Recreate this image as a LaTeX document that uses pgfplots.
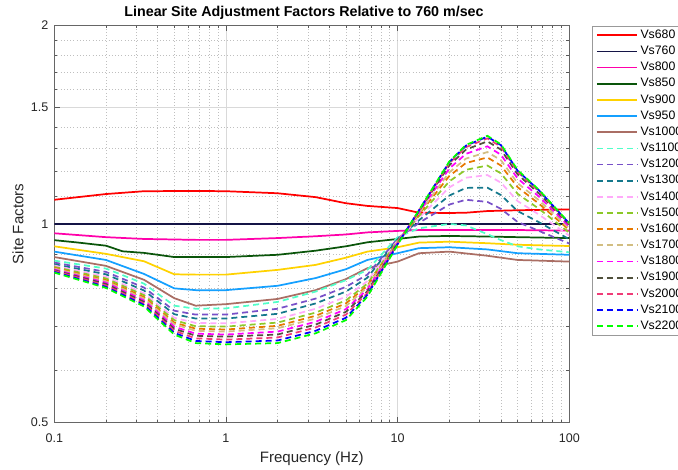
\documentclass[border=0pt]{standalone}
\usepackage{fontspec}
\setmainfont{Liberation Sans}
\usepackage{pgfplots}
\usepackage{pgfplotstable}
\pgfplotsset{compat=1.18}

\definecolor{c680}{RGB}{255,0,0}
\definecolor{c760}{RGB}{20,20,70}
\definecolor{c800}{RGB}{255,0,170}
\definecolor{c850}{RGB}{10,85,10}
\definecolor{c900}{RGB}{255,210,0}
\definecolor{c950}{RGB}{20,160,255}
\definecolor{c1000}{RGB}{170,110,100}
\definecolor{c1100}{RGB}{80,255,200}
\definecolor{c1200}{RGB}{120,80,200}
\definecolor{c1300}{RGB}{20,120,140}
\definecolor{c1400}{RGB}{255,170,250}
\definecolor{c1500}{RGB}{140,200,40}
\definecolor{c1600}{RGB}{230,120,0}
\definecolor{c1700}{RGB}{210,190,130}
\definecolor{c1800}{RGB}{255,0,255}
\definecolor{c1900}{RGB}{80,80,60}
\definecolor{c2000}{RGB}{240,60,120}
\definecolor{c2100}{RGB}{0,0,255}
\definecolor{c2200}{RGB}{0,255,0}

\pgfplotstableread{
f      a     b     c     d     e     g     h     i     j     k     l     m
0.1    0.880 0.874 0.869 0.865 0.861 0.858 0.856 0.853 0.851 0.849 0.846 0.844
0.2    0.856 0.846 0.839 0.832 0.827 0.822 0.819 0.815 0.811 0.807 0.803 0.800
0.3333 0.812 0.801 0.793 0.785 0.780 0.775 0.771 0.766 0.762 0.758 0.754 0.750
0.5    0.752 0.739 0.730 0.721 0.715 0.709 0.705 0.699 0.694 0.689 0.684 0.680
0.6667 0.744 0.729 0.719 0.708 0.700 0.694 0.689 0.682 0.677 0.671 0.665 0.660
1      0.745 0.729 0.719 0.707 0.699 0.692 0.687 0.680 0.675 0.668 0.662 0.657
2      0.762 0.744 0.731 0.718 0.709 0.701 0.695 0.687 0.680 0.673 0.666 0.660
3.333  0.790 0.771 0.758 0.744 0.734 0.726 0.719 0.711 0.704 0.697 0.689 0.683
5      0.822 0.803 0.790 0.776 0.766 0.758 0.751 0.743 0.736 0.729 0.721 0.715
6.667  0.852 0.838 0.829 0.819 0.812 0.806 0.802 0.796 0.791 0.786 0.781 0.776
10     0.955 0.950 0.948 0.944 0.942 0.940 0.939 0.937 0.935 0.933 0.932 0.930
13.33  0.985 1.004 1.013 1.021 1.028 1.034 1.038 1.042 1.046 1.048 1.049 1.050
20     1.000 1.070 1.104 1.136 1.160 1.182 1.197 1.213 1.227 1.236 1.241 1.243
25     0.995 1.088 1.134 1.175 1.208 1.237 1.256 1.277 1.296 1.307 1.314 1.317
33.33  0.965 1.080 1.135 1.186 1.226 1.261 1.285 1.311 1.334 1.348 1.356 1.360
40     0.945 1.054 1.106 1.155 1.193 1.226 1.249 1.273 1.296 1.309 1.316 1.320
50     0.925 1.007 1.046 1.083 1.111 1.137 1.153 1.172 1.189 1.199 1.204 1.207
66.67  0.915 0.976 1.006 1.033 1.054 1.073 1.086 1.100 1.112 1.120 1.124 1.126
100    0.906 0.934 0.948 0.960 0.970 0.979 0.985 0.991 0.997 1.000 1.002 1.003
}\dashedtab

\begin{document}
\begin{tikzpicture}
\begin{axis}[
  at={(0,0)}, anchor=south west,
  scale only axis, width=386.25pt, height=298.05pt,
  xmode=log, ymode=log,
  xmin=0.1, xmax=100, ymin=0.5, ymax=2,
  xtick={0.1,1,10,100}, xticklabels={0.1,1,10,100},
  ytick={0.5,1,1.5,2}, yticklabels={0.5,1,1.5,2},
  minor xtick={0.2,0.3,0.4,0.5,0.6,0.7,0.8,0.9,2,3,4,5,6,7,8,9,20,30,40,50,60,70,80,90},
  minor ytick={0.6,0.7,0.8,0.9,1.1,1.2,1.3,1.4,1.6,1.7,1.8,1.9},
  grid=both,
  major grid style={black!15, line width=0.4pt},
  minor grid style={black!25, dotted, line width=0.4pt},
  xtick pos=both, ytick pos=both,
  tick align=inside,
  major tick length=4pt, minor tick length=2.2pt,
  tick style={black!65, line width=0.4pt},
  axis line style={black!60, line width=0.5pt},
  ticklabel style={font=\fontsize{9.4}{11}\selectfont, text=black!85},
  xticklabel style={yshift=-5pt},
  yticklabel style={xshift=-1pt},
  /pgf/number format/assume math mode=true,
  xlabel={Frequency (Hz)}, ylabel={Site Factors},
  xlabel style={at={(rel axis cs:0.5,0)}, anchor=center, yshift=-27pt, font=\fontsize{11.3}{13}\selectfont, text=black!85},
  ylabel style={at={(rel axis cs:0,0.5)}, anchor=center, yshift=27.2pt, font=\fontsize{11.3}{13}\selectfont, text=black!85},
  every axis title shift=0pt,
  title={Linear Site Adjustment Factors Relative to 760 m/sec},
  title style={at={(rel axis cs:0.5,1)}, anchor=center, yshift=9.2pt, xshift=-5.8pt, font=\bfseries\fontsize{10.7}{12}\selectfont},
  no markers,
  every axis plot/.append style={line width=1.3pt},
  legend cell align=left,
  legend image code/.code={\draw[#1] (0cm,0cm) -- (1.06cm,0cm);},
  legend style={at={(rel axis cs:1.0435,0.999)}, anchor=north west,
    draw=black!40,
    font=\fontsize{9.2}{11}\selectfont, inner xsep=3pt, inner ysep=1pt,
    row sep=0.2pt},
]
\addplot[c680] coordinates {(0.1,1.088)(0.2,1.110)(0.3333,1.121)(0.6667,1.122)(1,1.121)(2,1.113)(3.333,1.098)(5,1.075)(6.667,1.065)(10,1.057)(13.33,1.040)(20,1.039)(25,1.040)(33.33,1.046)(50,1.049)(100,1.052)};
\addlegendentry{Vs680}
\addplot[c760] coordinates {(0.1,1)(100,1)};
\addlegendentry{Vs760}
\addplot[c800] coordinates {(0.1,0.968)(0.2,0.955)(0.3333,0.949)(0.6667,0.946)(1,0.946)(2,0.952)(3.333,0.958)(5,0.964)(6.667,0.971)(10,0.976)(13.33,0.979)(20,0.979)(50,0.979)(100,0.977)};
\addlegendentry{Vs800}
\addplot[c850] coordinates {(0.1,0.945)(0.1333,0.938)(0.2,0.927)(0.25,0.909)(0.3333,0.904)(0.5,0.891)(0.6667,0.891)(1,0.891)(2,0.898)(3.333,0.911)(5,0.925)(6.667,0.938)(10,0.949)(13.33,0.957)(20,0.959)(33.33,0.957)(50,0.955)(100,0.952)};
\addlegendentry{Vs850}
\addplot[c900] coordinates {(0.1,0.925)(0.2,0.901)(0.3333,0.878)(0.5,0.839)(0.6667,0.838)(1,0.838)(2,0.852)(3.333,0.867)(5,0.889)(6.667,0.908)(10,0.922)(13.33,0.937)(20,0.940)(33.33,0.935)(50,0.930)(100,0.926)};
\addlegendentry{Vs900}
\addplot[c950] coordinates {(0.1,0.908)(0.2,0.882)(0.3333,0.840)(0.5,0.799)(0.6667,0.794)(1,0.794)(2,0.806)(3.333,0.828)(5,0.854)(6.667,0.882)(10,0.903)(13.33,0.919)(20,0.922)(33.33,0.915)(50,0.903)(100,0.898)};
\addlegendentry{Vs950}
\addplot[c1000] coordinates {(0.1,0.891)(0.2,0.864)(0.3333,0.823)(0.5,0.772)(0.6667,0.752)(1,0.756)(2,0.770)(3.333,0.794)(5,0.825)(6.667,0.857)(10,0.877)(13.33,0.903)(20,0.908)(33.33,0.895)(50,0.882)(100,0.877)};
\addlegendentry{Vs1000}
\pgfplotsset{dsh/.style={dash pattern=on 4.5pt off 3pt}}
\addplot[c1100,dsh] table[x=f,y=a]{\dashedtab}; \addlegendentry{Vs1100}
\addplot[c1200,dsh] table[x=f,y=b]{\dashedtab}; \addlegendentry{Vs1200}
\addplot[c1300,dsh] table[x=f,y=c]{\dashedtab}; \addlegendentry{Vs1300}
\addplot[c1400,dsh] table[x=f,y=d]{\dashedtab}; \addlegendentry{Vs1400}
\addplot[c1500,dsh] table[x=f,y=e]{\dashedtab}; \addlegendentry{Vs1500}
\addplot[c1600,dsh] table[x=f,y=g]{\dashedtab}; \addlegendentry{Vs1600}
\addplot[c1700,dsh] table[x=f,y=h]{\dashedtab}; \addlegendentry{Vs1700}
\addplot[c1800,dsh] table[x=f,y=i]{\dashedtab}; \addlegendentry{Vs1800}
\addplot[c1900,dsh] table[x=f,y=j]{\dashedtab}; \addlegendentry{Vs1900}
\addplot[c2000,dsh] table[x=f,y=k]{\dashedtab}; \addlegendentry{Vs2000}
\addplot[c2100,dsh] table[x=f,y=l]{\dashedtab}; \addlegendentry{Vs2100}
\addplot[c2200,dsh] table[x=f,y=m]{\dashedtab}; \addlegendentry{Vs2200}
\end{axis}
\pgfresetboundingbox
\path (-40.7pt,-35.5pt) rectangle (467.8pt,317.0pt);
\end{tikzpicture}
\end{document}
